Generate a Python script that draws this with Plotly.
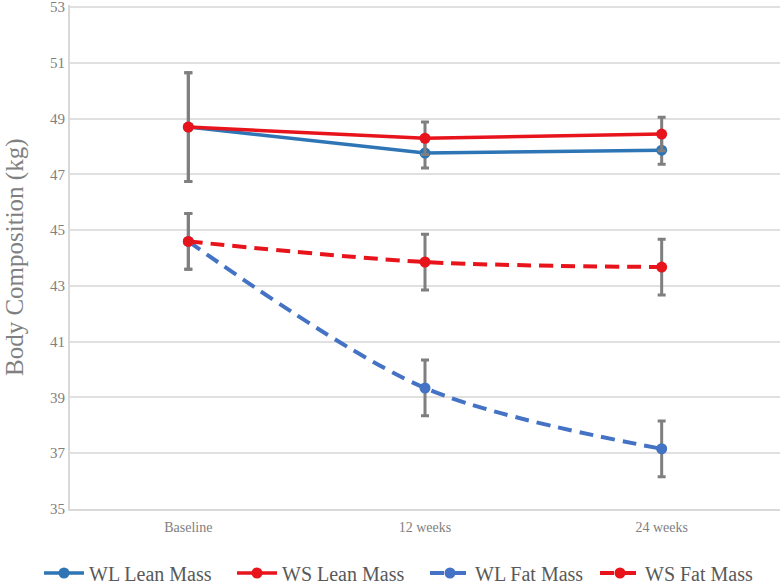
import plotly.graph_objects as go

categories = ["Baseline", "12 weeks", "24 weeks"]
wl_lean = [48.70, 47.77, 47.87]
ws_lean = [48.70, 48.30, 48.45]
wl_fat = [44.60, 39.34, 37.16]
ws_fat = [44.60, 43.86, 43.68]
wl_lean_err = [1.95, 0.54, 0.50]
ws_lean_err = [1.95, 0.58, 0.60]
wl_fat_err = [1.0, 1.0, 1.0]
ws_fat_err = [1.0, 1.0, 1.0]
y_ticks = [35, 37, 39, 41, 43, 45, 47, 49, 51, 53]

x_idx = list(range(len(categories)))
FONT = "Liberation Serif, Times New Roman, serif"
ERR = "#7F7F7F"

def err(vals):
    return dict(type="data", array=vals, visible=True, color=ERR, thickness=3, width=4)

fig = go.Figure()
fig.add_trace(go.Scatter(x=x_idx, y=wl_lean, name="WL Lean Mass", mode="lines+markers",
                         line=dict(color="#2E75B6", width=3.5), marker=dict(size=11, color="#2E75B6"),
                         error_y=err(wl_lean_err), legend="legend"))
fig.add_trace(go.Scatter(x=x_idx, y=ws_lean, name="WS Lean Mass", mode="lines+markers",
                         line=dict(color="#E8141C", width=3.5), marker=dict(size=11, color="#E8141C"),
                         error_y=err(ws_lean_err), legend="legend"))
fig.add_trace(go.Scatter(x=x_idx, y=wl_fat, name="WL Fat Mass", mode="lines+markers",
                         line=dict(color="#4472C4", width=4, dash="14px,8px", shape="spline", smoothing=0.9),
                         marker=dict(size=11, color="#4472C4"),
                         error_y=err(wl_fat_err), legend="legend2"))
fig.add_trace(go.Scatter(x=x_idx, y=ws_fat, name="WS Fat Mass", mode="lines+markers",
                         line=dict(color="#E8141C", width=4, dash="14px,8px", shape="spline", smoothing=0.9),
                         marker=dict(size=11, color="#E8141C"),
                         error_y=err(ws_fat_err), legend="legend2"))

legend_common = dict(orientation="h", xref="container", xanchor="left",
                     yref="container", y=14 / 587, yanchor="middle",
                     font=dict(family=FONT, size=20, color="#595959"), itemwidth=40,
                     entrywidthmode="pixels", traceorder="normal", tracegroupgap=0,
                     bgcolor="rgba(0,0,0,0)")

fig.update_layout(
    width=780, height=587,
    margin=dict(l=70, r=0, t=5, b=78, autoexpand=False),
    paper_bgcolor="white", plot_bgcolor="white",
    font=dict(family=FONT, color="#808080"),
    showlegend=True,
    legend=dict(x=(43 - 4) / 780, entrywidth=138, **legend_common),
    legend2=dict(x=(429 - 4) / 780, entrywidth=115, **legend_common),
    annotations=[dict(text="Body Composition (kg)", xref="paper", yref="paper",
                      x=(15 - 70) / 710, y=0.5, xanchor="center", yanchor="middle",
                      textangle=-90, showarrow=False,
                      font=dict(family=FONT, size=25, color="#808080"))],
)
fig.update_xaxes(
    tickmode="array", tickvals=x_idx, ticktext=categories,
    range=[-0.5, 2.5], showgrid=False, zeroline=False, automargin=False,
    showline=True, linecolor="#D9D9D9", linewidth=2,
    ticks="outside", ticklen=4, tickcolor="rgba(0,0,0,0)",
    tickfont=dict(family=FONT, size=14, color="#808080"),
)
fig.update_yaxes(
    range=[34.999, 53.08], tickmode="array", tickvals=y_ticks, automargin=False,
    showgrid=True, gridcolor="#E0E0E0", gridwidth=2, zeroline=False,
    showline=True, linecolor="#D9D9D9", linewidth=2, ticklabeloverflow="allow",
    ticks="", ticklen=0, tickfont=dict(family=FONT, size=15, color="#808080"),
)

fig.write_html("out.html", config={"displayModeBar": False},
               post_script="document.body.style.margin='0';document.body.style.overflow='hidden';")
